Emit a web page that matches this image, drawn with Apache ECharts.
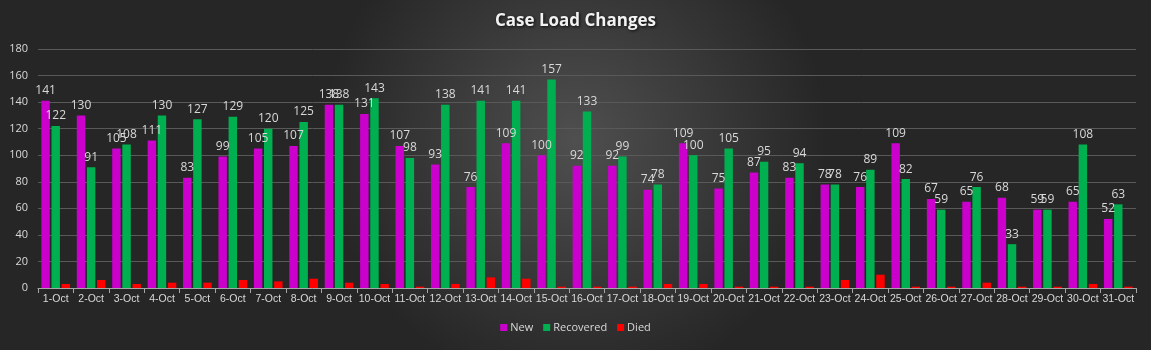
<!DOCTYPE html>
<html><head><meta charset="utf-8">
<script src="https://cdn.jsdelivr.net/npm/echarts@6/dist/echarts.min.js"></script>
<style>html,body{margin:0;padding:0;background:#333;}#c{width:1151px;height:350px;}</style>
</head><body><div id="c"></div>
<script>
const categories = ['1-Oct','2-Oct','3-Oct','4-Oct','5-Oct','6-Oct','7-Oct','8-Oct','9-Oct','10-Oct','11-Oct','12-Oct','13-Oct','14-Oct','15-Oct','16-Oct','17-Oct','18-Oct','19-Oct','20-Oct','21-Oct','22-Oct','23-Oct','24-Oct','25-Oct','26-Oct','27-Oct','28-Oct','29-Oct','30-Oct','31-Oct'];
const newCases = [141,130,105,111,83,99,105,107,138,131,107,93,76,109,100,92,92,74,109,75,87,83,78,76,109,67,65,68,59,65,52];
const recovered = [122,91,108,130,127,129,120,125,138,143,98,138,141,141,157,133,99,78,100,105,95,94,78,89,82,59,76,33,59,108,63];
const died = [3,6,3,4,4,6,5,7,4,3,1,3,8,7,1,1,1,3,3,1,1,1,6,10,1,1,4,1,1,3,1];
const yTicks = {min:0, max:180, interval:20};

const chart = echarts.init(document.getElementById('c'));
const labelStyle = {show:true, position:'top', color:'#d9d9d9', fontSize:12, fontFamily:'Open Sans', distance:4};
chart.setOption({
  backgroundColor: {type:'radial', x:0.5, y:0.4, r:0.72, colorStops:[{offset:0,color:'#4f4f4f'},{offset:1,color:'#262626'}]},
  title: {text:'Case Load Changes', left:'center', top:8, textStyle:{color:'#f2f2f2', fontSize:17, fontWeight:'bold', fontFamily:'Open Sans', textShadowColor:'rgba(0,0,0,0.8)', textShadowBlur:3, textShadowOffsetX:1, textShadowOffsetY:1}},
  legend: {bottom:12, left:'center', itemWidth:7, itemHeight:7, itemGap:10, icon:'rect', textStyle:{color:'#d9d9d9', fontSize:11, fontFamily:'Open Sans', padding:[0,0,0,-2]}, data:['New','Recovered','Died']},
  grid: {left:38, right:15, top:49, bottom:62},
  xAxis: {type:'category', data:categories, boundaryGap:true,
    axisLine:{lineStyle:{color:'#a6a6a6'}}, axisTick:{show:true, length:5, lineStyle:{color:'#a6a6a6'}},
    axisLabel:{color:'#d9d9d9', fontSize:10.5, fontFamily:'Liberation Sans', interval:0, margin:6}},
  yAxis: {type:'value', min:yTicks.min, max:yTicks.max, interval:yTicks.interval,
    axisLabel:{color:'#d9d9d9', fontSize:11, fontFamily:'Open Sans', margin:10},
    splitLine:{lineStyle:{color:'#595959', width:1}}, axisLine:{show:false}, axisTick:{show:false}},
  series: [
    {name:'New', type:'bar', data:newCases, itemStyle:{color:'#cc00cc'}, barGap:'20%', barCategoryGap:'19%', label:labelStyle},
    {name:'Recovered', type:'bar', data:recovered, itemStyle:{color:'#00b050'}, label:labelStyle},
    {name:'Died', type:'bar', data:died, itemStyle:{color:'#ff0000'}}
  ]
});
</script></body></html>
